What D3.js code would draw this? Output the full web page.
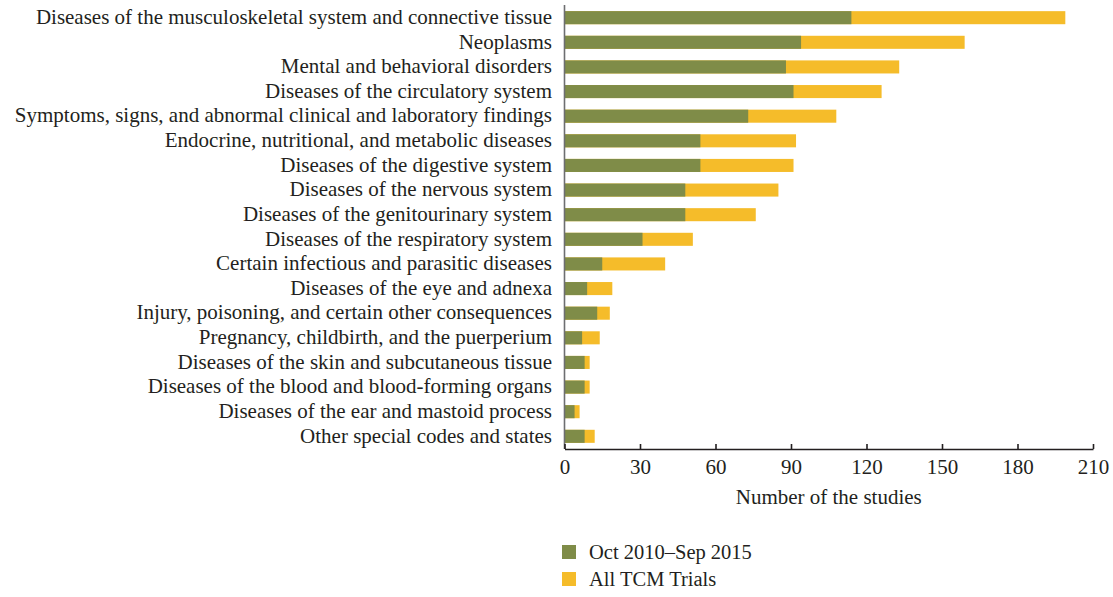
<!DOCTYPE html>
<html>
<head>
<meta charset="utf-8">
<script src="https://cdn.jsdelivr.net/npm/d3@7"></script>
<style>
  body { margin: 0; background: #fff; }
  svg { display: block; }
  text { font-family: "Liberation Serif", "DejaVu Serif", serif; fill: #231f20; }
</style>
</head>
<body>
<svg id="chart" width="1113" height="597"></svg>
<script>
const categories = [
  "Diseases of the musculoskeletal system and connective tissue",
  "Neoplasms",
  "Mental and behavioral disorders",
  "Diseases of the circulatory system",
  "Symptoms, signs, and abnormal clinical and laboratory findings",
  "Endocrine, nutritional, and metabolic diseases",
  "Diseases of the digestive system",
  "Diseases of the nervous system",
  "Diseases of the genitourinary system",
  "Diseases of the respiratory system",
  "Certain infectious and parasitic diseases",
  "Diseases of the eye and adnexa",
  "Injury, poisoning, and certain other consequences",
  "Pregnancy, childbirth, and the puerperium",
  "Diseases of the skin and subcutaneous tissue",
  "Diseases of the blood and blood-forming organs",
  "Diseases of the ear and mastoid process",
  "Other special codes and states"
];
const recentValues = [114, 94, 88, 91, 73, 54, 54, 48, 48, 31, 15, 9, 13, 7, 8, 8, 4, 8];
const allValues = [199, 159, 133, 126, 108, 92, 91, 85, 76, 51, 40, 19, 18, 14, 10, 10, 6, 12];
const seriesNames = ["Oct 2010\u2013Sep 2015", "All TCM Trials"];
const xTicks = [0, 30, 60, 90, 120, 150, 180, 210];

const colors = { recent: "#7f8c48", all: "#f5bc2a" };
const FS = "21px";

const svg = d3.select("#chart");
const x = d3.scaleLinear().domain([0, 210]).range([564.5, 1093]);
const y = d3.scaleBand().domain(categories).range([5, 449]).paddingInner(0.47).paddingOuter(0.25);

const g = svg.append("g");

// All trials bars (full length)
g.selectAll("rect.all").data(categories).join("rect")
  .attr("class", "all")
  .attr("x", x(0))
  .attr("y", d => y(d))
  .attr("width", (d, i) => x(allValues[i]) - x(0))
  .attr("height", y.bandwidth())
  .attr("fill", colors.all);

// Recent bars overlay
g.selectAll("rect.recent").data(categories).join("rect")
  .attr("class", "recent")
  .attr("x", x(0))
  .attr("y", d => y(d))
  .attr("width", (d, i) => x(recentValues[i]) - x(0))
  .attr("height", y.bandwidth())
  .attr("fill", colors.recent);

// Category labels
g.selectAll("text.cat").data(categories).join("text")
  .attr("class", "cat")
  .attr("x", 552)
  .attr("y", d => y(d) + y.bandwidth() / 2)
  .attr("dy", "0.3em")
  .attr("text-anchor", "end")
  .style("font-size", FS)
  .text(d => d);

// Left axis line
svg.append("line")
  .attr("x1", 564.5).attr("x2", 564.5)
  .attr("y1", 5).attr("y2", 449)
  .attr("stroke", "#6d6e71").attr("stroke-width", 1.6);

// X axis
const xAxis = d3.axisBottom(x).tickValues(xTicks).tickSize(-5).tickSizeOuter(0).tickPadding(10);
const ax = svg.append("g").attr("transform", "translate(0,449)").call(xAxis);
ax.select(".domain").attr("stroke", "#231f20").attr("stroke-width", 1.6);
ax.selectAll(".tick line").attr("stroke", "#231f20").attr("stroke-width", 1.6);
ax.selectAll(".tick text")
  .style("font-family", '"Liberation Serif", "DejaVu Serif", serif')
  .style("font-size", FS).attr("fill", "#231f20");

svg.append("text")
  .attr("x", (x(0) + x(210)) / 2)
  .attr("y", 504)
  .attr("text-anchor", "middle")
  .style("font-size", FS)
  .text("Number of the studies");

// Legend
const legend = svg.append("g");
const legColors = [colors.recent, colors.all];
const legY = [545, 572];
legend.selectAll("rect").data(seriesNames).join("rect")
  .attr("x", 562).attr("y", (d, i) => legY[i])
  .attr("width", 14).attr("height", 14)
  .attr("fill", (d, i) => legColors[i]);
legend.selectAll("text").data(seriesNames).join("text")
  .attr("x", 589).attr("y", (d, i) => legY[i] + 7)
  .attr("dy", "0.33em")
  .style("font-size", "20.5px")
  .text(d => d);
</script>
</body>
</html>
